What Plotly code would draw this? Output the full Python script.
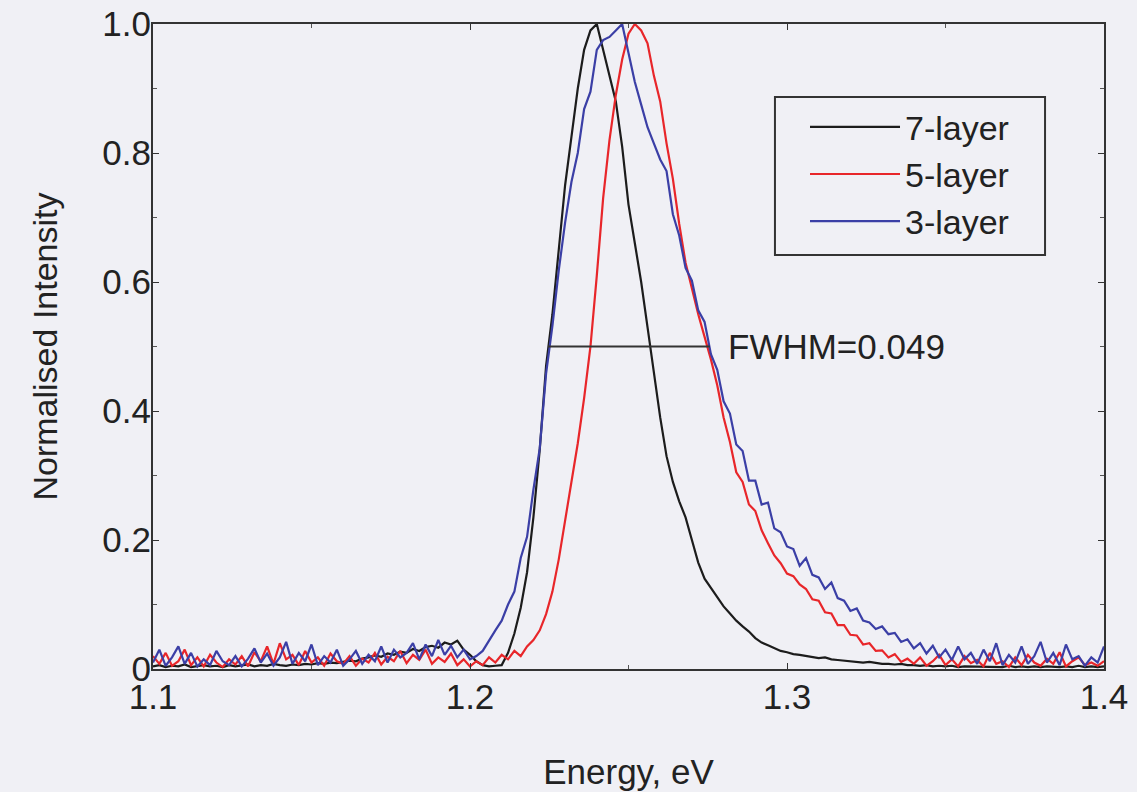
import numpy as np
import plotly.graph_objects as go

# Energy grid (eV), 0.002 eV step from 1.100 to 1.400
energy = np.round(np.linspace(1.1, 1.4, 151), 3)

layer7 = [
    0.004, 0.006, 0.003, 0.005, 0.004, 0.007, 0.003, 0.005, 0.006, 0.004,
    0.005, 0.003, 0.006, 0.004, 0.005, 0.007, 0.004, 0.006, 0.005, 0.008,
    0.006, 0.005, 0.007, 0.006, 0.008, 0.007, 0.009, 0.008, 0.010, 0.009,
    0.011, 0.013, 0.012, 0.016, 0.018, 0.021, 0.019, 0.024, 0.022, 0.027,
    0.025, 0.031, 0.028, 0.034, 0.036, 0.033, 0.041, 0.038, 0.044, 0.030,
    0.022, 0.012, 0.006, 0.004, 0.005, 0.006, 0.025, 0.055, 0.095, 0.150,
    0.235, 0.340, 0.470, 0.550, 0.650, 0.750, 0.825, 0.900, 0.960, 0.990,
    1.000, 0.960, 0.920, 0.880, 0.810, 0.720, 0.660, 0.600, 0.530, 0.460,
    0.390, 0.330, 0.290, 0.260, 0.235, 0.200, 0.165, 0.140, 0.125, 0.110,
    0.097, 0.086, 0.075, 0.066, 0.058, 0.048, 0.041, 0.037, 0.032, 0.028,
    0.026, 0.023, 0.022, 0.020, 0.018, 0.017, 0.018, 0.015, 0.014, 0.013,
    0.012, 0.012, 0.010, 0.011, 0.009, 0.008, 0.008, 0.007, 0.008, 0.006,
    0.006, 0.005, 0.006, 0.004, 0.005, 0.004, 0.005, 0.003, 0.004, 0.004,
    0.003, 0.004, 0.003, 0.004, 0.003, 0.005, 0.003, 0.004, 0.003, 0.004,
    0.003, 0.004, 0.003, 0.003, 0.004, 0.003, 0.005, 0.003, 0.004, 0.003,
    0.004,
]

layer5 = [
    0.020, 0.008, 0.025, 0.005, 0.012, 0.030, 0.006, 0.018, 0.004, 0.022,
    0.010, 0.003, 0.015, 0.007, 0.020, 0.004, 0.026, 0.012, 0.035, 0.008,
    0.040, 0.015, 0.022, 0.006, 0.028, 0.010, 0.018, 0.005, 0.024, 0.012,
    0.008, 0.020, 0.005, 0.016, 0.010, 0.025, 0.007, 0.019, 0.012, 0.028,
    0.009, 0.022, 0.014, 0.030, 0.008, 0.018, 0.011, 0.024, 0.006, 0.015,
    0.004, 0.012, 0.006, 0.018, 0.010, 0.022, 0.015, 0.028, 0.020, 0.035,
    0.045, 0.060, 0.085, 0.120, 0.170, 0.230, 0.290, 0.350, 0.420, 0.500,
    0.610, 0.730, 0.820, 0.890, 0.945, 0.985, 1.000, 0.990, 0.970, 0.920,
    0.880, 0.815, 0.760, 0.690, 0.630, 0.590, 0.550, 0.515, 0.480, 0.440,
    0.390, 0.352, 0.305, 0.290, 0.255, 0.245, 0.215, 0.195, 0.176, 0.164,
    0.148, 0.144, 0.131, 0.124, 0.108, 0.106, 0.088, 0.086, 0.068, 0.068,
    0.053, 0.052, 0.038, 0.040, 0.028, 0.029, 0.018, 0.023, 0.011, 0.016,
    0.008, 0.018, 0.005, 0.012, 0.022, 0.006, 0.015, 0.004, 0.020, 0.009,
    0.014, 0.004, 0.025, 0.008, 0.012, 0.003, 0.018, 0.006, 0.022, 0.010,
    0.005, 0.016, 0.008, 0.026, 0.004, 0.012, 0.018, 0.006, 0.010, 0.005,
    0.012,
]

layer3 = [
    0.010, 0.030, 0.005, 0.018, 0.035, 0.008, 0.025, 0.004, 0.015, 0.006,
    0.028, 0.012, 0.006, 0.020, 0.004, 0.016, 0.032, 0.010, 0.024, 0.005,
    0.018, 0.042, 0.008, 0.025, 0.012, 0.038, 0.006, 0.020, 0.010, 0.030,
    0.005, 0.015, 0.028, 0.008, 0.022, 0.012, 0.035, 0.010, 0.030, 0.018,
    0.025, 0.040, 0.015, 0.038, 0.020, 0.045, 0.022, 0.036, 0.018, 0.030,
    0.015, 0.020, 0.028, 0.045, 0.060, 0.075, 0.100, 0.120, 0.172, 0.205,
    0.278, 0.342, 0.458, 0.532, 0.618, 0.692, 0.755, 0.800, 0.868, 0.895,
    0.960, 0.975, 0.980, 0.990, 1.000, 0.955, 0.910, 0.875, 0.840, 0.815,
    0.790, 0.772, 0.705, 0.672, 0.622, 0.602, 0.556, 0.538, 0.488, 0.464,
    0.415, 0.396, 0.348, 0.338, 0.292, 0.292, 0.255, 0.258, 0.218, 0.212,
    0.190, 0.186, 0.160, 0.172, 0.146, 0.142, 0.124, 0.134, 0.110, 0.106,
    0.090, 0.094, 0.075, 0.072, 0.062, 0.066, 0.054, 0.056, 0.042, 0.046,
    0.032, 0.040, 0.024, 0.036, 0.018, 0.030, 0.014, 0.035, 0.015, 0.025,
    0.008, 0.030, 0.012, 0.040, 0.006, 0.022, 0.010, 0.035, 0.008, 0.020,
    0.042, 0.010, 0.025, 0.006, 0.038, 0.015, 0.020, 0.005, 0.018, 0.010,
    0.035,
]

series_names = ["7-layer", "5-layer", "3-layer"]
series_colors = ["#1c1c1c", "#e8262a", "#3b3fa6"]

fwhm_x = [1.2246, 1.2757]
fwhm_y = [0.5, 0.5]
fwhm_label = "FWHM=0.049"

y_tickvals = [0, 0.2, 0.4, 0.6, 0.8, 1.0]
y_ticktext = ["0", "0.2", "0.4", "0.6", "0.8", "1.0"]
x_tickvals = [1.1, 1.2, 1.3, 1.4]
x_ticktext = ["1.1", "1.2", "1.3", "1.4"]

FONT = "Liberation Sans, Arial, sans-serif"
TXT = "#222222"
BG = "#f0f0f5"

fig = go.Figure()
for name, ys, col in zip(series_names, [layer7, layer5, layer3], series_colors):
    fig.add_trace(go.Scatter(x=energy, y=ys, mode="lines", name=name,
                             line=dict(color=col, width=2.2)))

fig.add_trace(go.Scatter(x=fwhm_x, y=fwhm_y, mode="lines", showlegend=False,
                         line=dict(color="#333333", width=2)))
fig.add_annotation(x=fwhm_x[1], y=fwhm_y[1], text=fwhm_label, showarrow=False,
                   xanchor="left", yanchor="middle", xshift=16,
                   font=dict(family=FONT, size=35, color=TXT))

axis_common = dict(showline=True, linecolor="#333333", linewidth=2, mirror="ticks",
                   ticks="inside", ticklen=6, tickcolor="#333333", showgrid=False,
                   zeroline=False, ticklabeloverflow="allow",
                   tickfont=dict(family=FONT, size=35, color=TXT))

fig.update_xaxes(range=[1.1, 1.4], tickvals=x_tickvals, ticktext=x_ticktext,
                 ticklabelstandoff=-4,
                 title=dict(text="Energy, eV", font=dict(family=FONT, size=35, color=TXT),
                            standoff=44),
                 minor=dict(ticks="inside", ticklen=4, dtick=0.05, tickcolor="#555555"),
                 **axis_common)
fig.update_yaxes(range=[0, 1.0], tickvals=y_tickvals, ticktext=y_ticktext,
                 ticklabelstandoff=-7,
                 title=dict(text="Normalised Intensity", font=dict(family=FONT, size=34, color=TXT),
                            standoff=34),
                 minor=dict(ticks="inside", ticklen=4, dtick=0.1, tickcolor="#555555"),
                 **axis_common)

# legend frame (paper coordinates)
fig.add_shape(type="rect", xref="paper", yref="paper",
              x0=0.654, x1=0.938, y0=0.642, y1=0.887,
              line=dict(color="#333333", width=2), fillcolor="rgba(0,0,0,0)")

fig.update_layout(
    width=1137, height=792,
    margin=dict(l=153, r=33, t=24, b=123, autoexpand=False),
    paper_bgcolor=BG, plot_bgcolor=BG,
    font=dict(family=FONT, size=35, color=TXT),
    legend=dict(x=0.6856, y=0.885, xanchor="left", yanchor="top",
                bgcolor="rgba(0,0,0,0)", borderwidth=0,
                font=dict(family=FONT, size=34, color=TXT),
                tracegroupgap=0, itemwidth=90),
)

fig.write_html("out.html", config={"displayModeBar": False},
               post_script="document.body.style.margin='0';document.body.style.overflow='hidden';")
